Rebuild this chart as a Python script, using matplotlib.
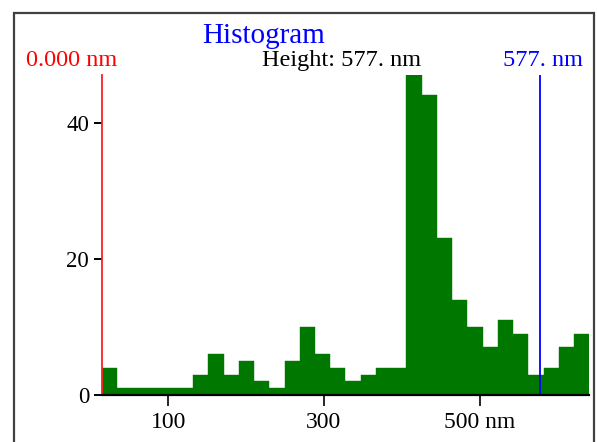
"""Height histogram with cursor lines, redrawn in matplotlib."""

import matplotlib

matplotlib.use("Agg")
import matplotlib.pyplot as plt
from matplotlib.patches import Rectangle

# histogram counts per bin
counts = [4, 1, 1, 1, 1, 1, 3, 6, 3, 5, 2, 1, 5, 10, 6, 4,
          2, 3, 4, 4, 47, 44, 23, 14, 10, 7, 11, 9, 3, 4, 7, 9]
bin_start = 14.4      # nm, left edge of first bin
bin_width = 19.58     # nm
cursor_low = 14.4     # red cursor position (axis units)
cursor_high = 577.0   # blue cursor position
x_ticks = [100, 300, 500]
x_tick_labels = ["100", "300", "500 nm"]
y_ticks = [0, 20, 40]
title = "Histogram"
low_label = "0.000 nm"
high_label = "577. nm"
height_label = "Height: 577. nm"

W, H = 597, 442
fig = plt.figure(figsize=(W / 100, H / 100), dpi=100)
plt.rcParams["font.family"] = ["Liberation Serif", "DejaVu Serif"]


def fx(px):
    return px / W


def fy(py):
    return 1 - py / H


# outer frame
fig.patches.append(
    Rectangle((fx(14), fy(470)), fx(594) - fx(14), fy(13) - fy(470),
              transform=fig.transFigure, fill=False,
              edgecolor="#404040", linewidth=1.6)
)

ax = fig.add_axes([fx(101.7), fy(395), fx(589.3) - fx(101.7), fy(75) - fy(395)])

lefts = [bin_start + i * bin_width for i in range(len(counts))]
ax.bar(lefts, counts, width=bin_width, align="edge", color="#007800",
       edgecolor="#007800", linewidth=0.3, zorder=2)

x_end = bin_start + len(counts) * bin_width
ax.set_xlim(bin_start, x_end)
ax.set_ylim(0, max(counts))

ax.axvline(cursor_low, color="#ff2020", linewidth=1.3, zorder=3, clip_on=False)
ax.axvline(cursor_high, color="#0000ff", linewidth=1.3, zorder=3)

for side in ("top", "right", "left"):
    ax.spines[side].set_visible(False)
ax.spines["bottom"].set_linewidth(1.6)
ax.spines["bottom"].set_zorder(4)

ax.set_xticks(x_ticks)
ax.set_xticklabels(x_tick_labels)
ax.set_yticks(y_ticks)
ax.tick_params(axis="x", direction="out", length=8, width=1.2, pad=4,
               labelsize=17)
ax.tick_params(axis="y", direction="out", length=6, width=1.4, pad=3,
               labelsize=16.5)

fig.text(fx(201.7), fy(43.3), title, color="#0000ff", fontsize=21,
         ha="left", va="baseline")
fig.text(fx(26), fy(66), low_label, color="#ff0000", fontsize=17.5,
         ha="left", va="baseline")
fig.text(fx(261.7), fy(66), height_label, color="black", fontsize=17.5,
         ha="left", va="baseline")
fig.text(fx(583), fy(66), high_label, color="#0000ff", fontsize=17.5,
         ha="right", va="baseline")

fig.savefig("out.png", dpi=100)
